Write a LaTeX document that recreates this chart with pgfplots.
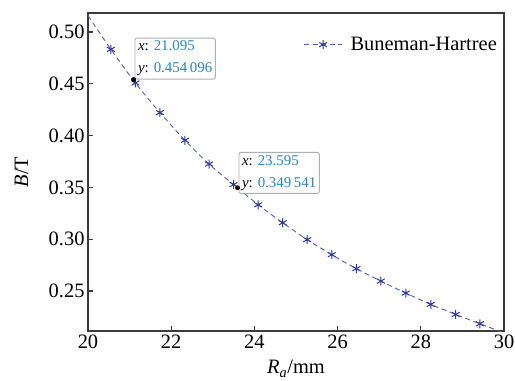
\documentclass[border=0pt]{standalone}
\usepackage{pgfplots}
\pgfplotsset{compat=1.18}
\usepackage{fontspec}
\setmainfont{Liberation Serif}
\definecolor{linecol}{RGB}{85,95,195}
\definecolor{markcol}{RGB}{45,55,170}
\definecolor{framecol}{RGB}{60,60,60}
\definecolor{tipblue}{RGB}{40,135,205}
\definecolor{tipborder}{RGB}{175,175,175}
\begin{document}
\begin{tikzpicture}
\begin{axis}[
  scale only axis,
  width=416bp, height=318bp,
  xmin=20, xmax=30, ymin=0.2113, ymax=0.5184,
  xtick={20,22,...,30},
  ytick={0.25,0.30,...,0.50},
  yticklabel style={/pgf/number format/.cd,fixed,fixed zerofill,precision=2},
  /pgf/number format/assume math mode=true,
  tick label style={font=\fontsize{20.5}{24}\selectfont},
  label style={font=\fontsize{20.5}{24}\selectfont},
  axis line style={framecol, line width=1.4bp},
  every tick/.style={framecol, line width=1.2bp},
  major tick length=5bp,
  tick align=inside,
  xtick pos=bottom, ytick pos=left,
  xlabel={\textit{R}\textsubscript{\textit{a}}/mm},
  ylabel={\textit{B}/T},
  xlabel style={at={(axis description cs:0.5,-0.135)}, anchor=base},
  ylabel style={at={(axis description cs:-0.16,0.5)}, anchor=center},
  legend style={at={(axis description cs:1,1)}, anchor=north east, draw=none, fill=none,
    xshift=-2bp, yshift=-20bp, font=\fontsize{20.5}{24}\selectfont},
  legend image code/.code={\draw[mark=none] (0bp,0bp) -- (38bp,0bp);
    \begin{scope}[shift={(19bp,0bp)}, solid, markcol, line width=1bp]
      \pgfsetplotmarksize{4.5bp}\pgfuseplotmark{asterisk}
    \end{scope}},
  clip=true,
]
\addplot[linecol, line width=0.9bp, dash pattern=on 5bp off 3.5bp, smooth,
  mark=asterisk, mark size=4.5bp, mark indices={2,3,...,17},
  mark options={solid, markcol, line width=1bp}]
coordinates {
(20.00,0.5160)
(20.55,0.4833)
(21.14,0.4508)
(21.73,0.4222)
(22.33,0.3955)
(22.91,0.3725)
(23.50,0.3527)
(24.09,0.3332)
(24.68,0.3158)
(25.27,0.2995)
(25.86,0.2850)
(26.45,0.2715)
(27.04,0.2595)
(27.64,0.2479)
(28.24,0.2370)
(28.84,0.2273)
(29.42,0.2183)
(30.00,0.2095)
};
\addlegendentry{\hspace{6bp}Buneman-Hartree}
\addplot[only marks, mark=*, mark size=2.2bp, black, forget plot]
coordinates {(21.095,0.454096) (23.595,0.349541)};
\node[anchor=south west, draw=tipborder, fill=white, fill opacity=0.9, text opacity=1,
  rounded corners=2bp, line width=0.9bp, align=left, inner xsep=3bp, inner ysep=3bp,
  font=\fontsize{15}{22}\selectfont, xshift=1bp]
  at (axis cs:21.095,0.454096) {\textit{x}: \textcolor{tipblue}{21.095}\\\textit{y}: \textcolor{tipblue}{0.454\,096}};
\node[anchor=south west, draw=tipborder, fill=white, fill opacity=0.9, text opacity=1,
  rounded corners=2bp, line width=0.9bp, align=left, inner xsep=3bp, inner ysep=3bp,
  font=\fontsize{15}{22}\selectfont, xshift=1bp, yshift=-6bp]
  at (axis cs:23.595,0.349541) {\textit{x}: \textcolor{tipblue}{23.595}\\\textit{y}: \textcolor{tipblue}{0.349\,541}};
\end{axis}
\pgfresetboundingbox
\path (-88bp,-50bp) rectangle (427bp,331bp);
\end{tikzpicture}
\end{document}
